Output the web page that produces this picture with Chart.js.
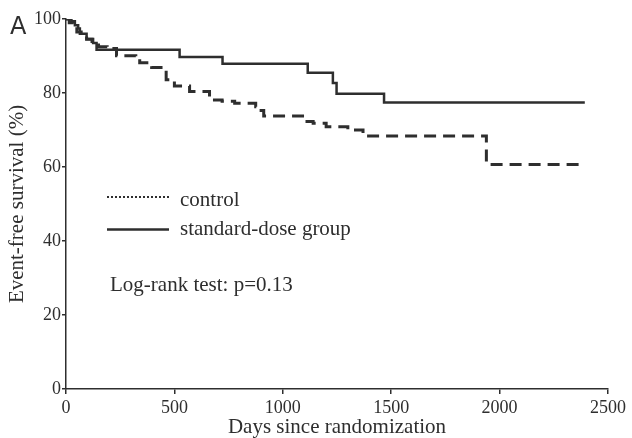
<!DOCTYPE html>
<html>
<head>
<meta charset="utf-8">
<script src="https://cdn.jsdelivr.net/npm/chart.js@4/dist/chart.umd.min.js"></script>
<style>
  html,body{margin:0;padding:0;background:#fff;}
  #wrap{width:632px;height:438px;position:relative;}
</style>
</head>
<body>
<div id="wrap"><canvas id="kmChart"></canvas></div>
<script>
// Kaplan-Meier steps (day of drop, survival % after drop)
const standardDays = [0, 25, 41, 56, 64, 95, 125, 141, 524, 722, 1115, 1231, 1248, 1467, 2393];
const standardSurv = [100, 99.4, 98.3, 97.4, 96.0, 94.6, 93.5, 91.7, 89.7, 87.9, 85.5, 82.7, 79.8, 77.4, 77.4];

const controlDays = [0, 15, 35, 50, 70, 95, 120, 150, 190, 233, 322, 340, 395, 462, 500, 570, 662, 720, 778, 875, 900, 912, 1091, 1140, 1200, 1300, 1370, 1939, 2393];
const controlSurv = [100, 99, 98, 96.5, 95.5, 94.5, 93.5, 92.5, 92.0, 90.1, 89.3, 88.2, 86.9, 83.6, 81.9, 80.4, 78.1, 77.8, 77.2, 76.3, 75.3, 73.8, 72.3, 71.8, 70.9, 70.0, 68.4, 60.7, 60.7];

const xTicks = [0, 500, 1000, 1500, 2000, 2500];
const yTicks = [0, 20, 40, 60, 80, 100];

const ink = '#2e2e2e';
const serif = "'Liberation Serif', 'Times New Roman', serif";

function toPoints(days, surv){
  return days.map((d,i)=>({x:d, y:surv[i]}));
}

// legend + annotation text drawn on top of the plot
const notes = {
  id:'notes',
  afterDraw(chart){
    const ctx = chart.ctx;
    ctx.save();
    ctx.fillStyle = ink;
    ctx.strokeStyle = ink;

    ctx.font = "24px 'DejaVu Sans', sans-serif";
    ctx.textBaseline = 'alphabetic';
    ctx.fillText('A', 10, 34);

    // legend lines
    ctx.lineWidth = 2;
    ctx.setLineDash([2,2]);
    ctx.beginPath(); ctx.moveTo(107,197); ctx.lineTo(169,197); ctx.stroke();
    ctx.setLineDash([]);
    ctx.lineWidth = 2.5;
    ctx.beginPath(); ctx.moveTo(107,229.5); ctx.lineTo(169,229.5); ctx.stroke();

    ctx.font = '21px ' + serif;
    ctx.fillText('control', 180, 206);
    ctx.fillText('standard-dose group', 180, 235);
    ctx.fillText('Log-rank test: p=0.13', 110, 291);
    ctx.restore();
  }
};

new Chart(document.getElementById('kmChart'), {
  type:'scatter',
  data:{
    datasets:[
      {label:'standard-dose group', data:toPoints(standardDays, standardSurv), showLine:true, stepped:true,
       borderColor:ink, borderWidth:2.5, pointRadius:0, fill:false},
      {label:'control', data:toPoints(controlDays, controlSurv), showLine:true, stepped:true,
       borderColor:ink, borderWidth:3, borderDash:[12,7], pointRadius:0, fill:false}
    ]
  },
  options:{
    responsive:true, maintainAspectRatio:false, animation:false,
    layout:{padding:{left:0, right:24, top:19, bottom:0}},
    plugins:{legend:{display:false}, tooltip:{enabled:false}},
    scales:{
      x:{
        type:'linear', min:0, max:2500,
        afterBuildTicks:s=>{ s.ticks = xTicks.map(v=>({value:v})); },
        afterFit:s=>{ s.height = 49; },
        grid:{drawOnChartArea:false, drawTicks:true, tickLength:5, color:ink, lineWidth:1.5},
        border:{color:ink, width:1.5},
        ticks:{color:ink, font:{family:serif, size:18}, padding:3, maxRotation:0, callback:v=>String(v)},
        title:{display:true, text:'Days since randomization', color:ink, font:{family:serif, size:21, lineHeight:1}, padding:{top:0,bottom:0}}
      },
      y:{
        type:'linear', min:0, max:100,
        afterBuildTicks:s=>{ s.ticks = yTicks.map(v=>({value:v})); },
        afterFit:s=>{ s.width = 66; },
        grid:{drawOnChartArea:false, drawTicks:true, tickLength:4, color:ink, lineWidth:1.5},
        border:{color:ink, width:1.5},
        ticks:{color:ink, font:{family:serif, size:18}, padding:1, callback:v=>String(v)},
        title:{display:true, text:'Event-free survival (%)', color:ink, font:{family:serif, size:21, lineHeight:1}, padding:{top:7,bottom:0}}
      }
    }
  },
  plugins:[notes]
});
</script>
</body>
</html>
